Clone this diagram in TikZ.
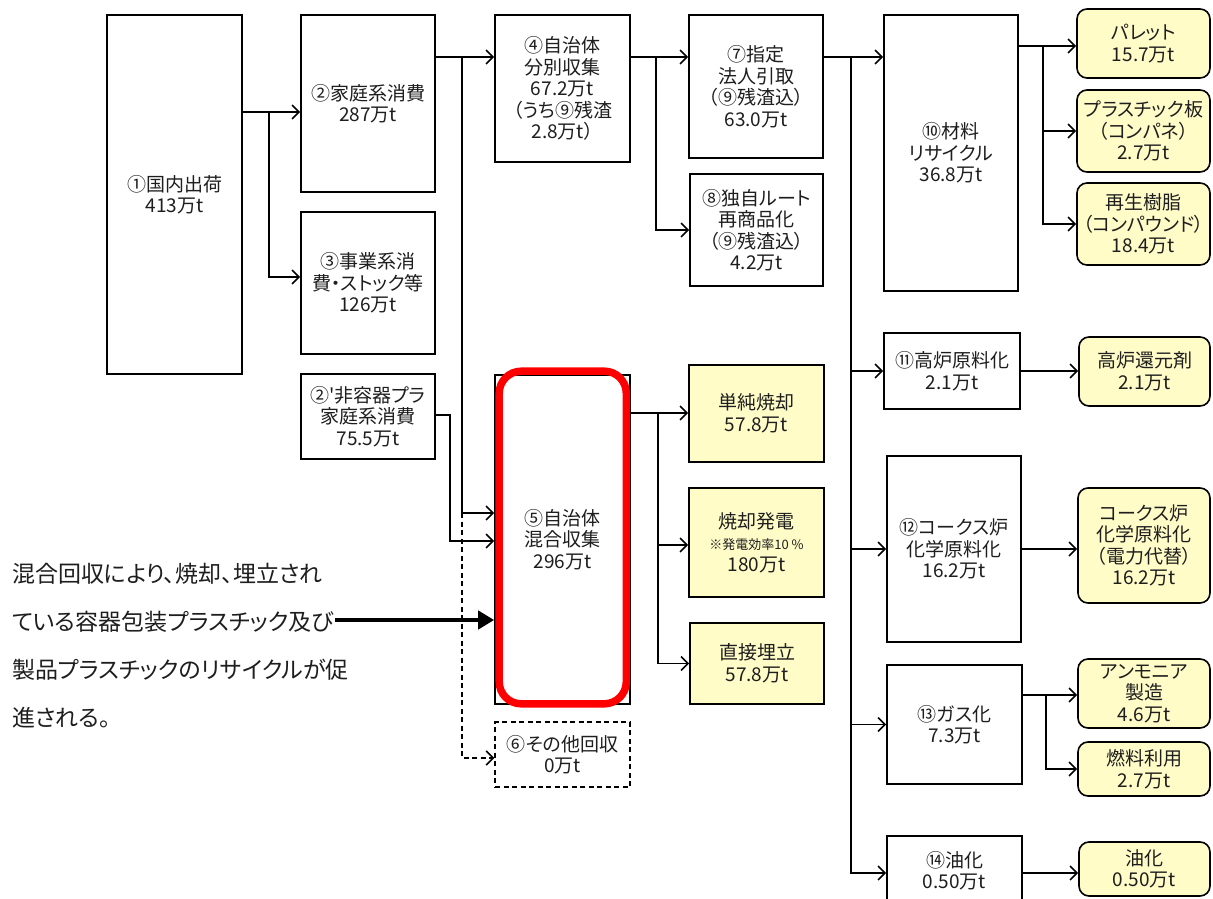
\documentclass[tikz,border=0pt]{standalone}
\usepackage{fontspec}
\setmainfont{Noto Sans CJK JP}[RawFeature=+palt]
\usetikzlibrary{calc,arrows.meta,positioning}
\definecolor{paleyel}{RGB}{255,252,200}
\definecolor{txtgray}{RGB}{30,30,30}

\begin{document}
\begin{tikzpicture}[x=1pt,y=-1pt,
  box/.style={draw,line width=1.6pt,inner sep=0pt,align=center,text=txtgray,
    font=\fontsize{19}{21.5}\selectfont},
  ybox/.style={box,fill=paleyel},
  rbox/.style={box,fill=paleyel,rounded corners=10pt},
  dbox/.style={box,dash pattern=on 5pt off 3.5pt,line width=1.4pt},
  arr/.style={line width=1.6pt,-{Straight Barb[length=7pt,width=14pt,line width=1.6pt]}},
  bigarr/.style={line width=4.5pt,-{Triangle[length=16pt,width=18pt]}},
  hilite/.style={draw=red,line width=7.5pt,rounded corners=22pt}]

\useasboundingbox[fill=white] (0,0) rectangle (1213,899);

% column 1 and 2
\node[box,minimum width=135,minimum height=359] (n1) at (174.5,194.5) {①国内出荷\\413万t};
\node[box,minimum width=134,minimum height=177] (n2) at (368,103.5) {②家庭系消費\\287万t};
\node[box,minimum width=134,minimum height=142] (n3) at (368,283) {③事業系消\\費・ストック等\\126万t};
\node[box,minimum width=134,minimum height=85] (n2p) at (368,416.5) {②\textquotesingle 非容器プラ\\家庭系消費\\75.5万t};

% column 3
\node[box,minimum width=135,minimum height=147] (n4) at (562.5,88.5) {④自治体\\分別収集\\67.2万t\\（うち⑨残渣\\2.8万t）};
\node[box,minimum width=135,minimum height=329] (n5) at (562.5,539.5) {⑤自治体\\混合収集\\296万t};
\node[dbox,minimum width=135,minimum height=65] (n6) at (562.5,754.5) {⑥その他回収\\0万t};

% column 4
\node[box,minimum width=134,minimum height=143] (n7) at (756,86.5) {⑦指定\\法人引取\\（⑨残渣込）\\63.0万t};
\node[box,minimum width=133,minimum height=112] (n8) at (756.5,230) {⑧独自ルート\\再商品化\\（⑨残渣込）\\4.2万t};
\node[ybox,minimum width=135,minimum height=97] (y1) at (756.5,413.5) {単純焼却\\57.8万t};
\node[ybox,minimum width=135,minimum height=109] (y2) at (756.5,542.5) {焼却発電\\{\fontsize{13}{19}\selectfont ※発電効率10 \%}\\180万t};
\node[ybox,minimum width=134,minimum height=81] (y3) at (757,663.5) {直接埋立\\57.8万t};

% column 5
\node[box,minimum width=134,minimum height=276] (n10) at (951,153) {⑩材料\\リサイクル\\36.8万t};
\node[box,minimum width=136,minimum height=76] (n11) at (952,371) {⑪高炉原料化\\2.1万t};
\node[box,minimum width=134,minimum height=186] (n12) at (954,549) {⑫コークス炉\\化学原料化\\16.2万t};
\node[box,minimum width=135,minimum height=119] (n13) at (954.5,724.5) {⑬ガス化\\7.3万t};
\node[box,minimum width=135,minimum height=69] (n14) at (954.5,870.5) {⑭油化\\0.50万t};

% column 6
\node[rbox,minimum width=133,minimum height=69] (r1) at (1143.5,43.5) {パレット\\15.7万t};
\node[rbox,minimum width=133,minimum height=82] (r2) at (1143.5,131) {プラスチック板\\（コンパネ）\\2.7万t};
\node[rbox,minimum width=133,minimum height=82] (r3) at (1143.5,224) {再生樹脂\\（コンパウンド）\\18.4万t};
\node[rbox,minimum width=131,minimum height=69] (r4) at (1144.5,371.5) {高炉還元剤\\2.1万t};
\node[rbox,minimum width=132,minimum height=115] (r5) at (1144,545.5) {コークス炉\\化学原料化\\（電力代替）\\16.2万t};
\node[rbox,minimum width=132,minimum height=69] (r6) at (1144,693.5) {アンモニア\\製造\\4.6万t};
\node[rbox,minimum width=132,minimum height=54] (r7) at (1144,769) {燃料利用\\2.7万t};
\node[rbox,minimum width=131,minimum height=54] (r8) at (1144.5,869) {油化\\0.50万t};

% note on the left
\node[anchor=west,align=left,text=txtgray,inner sep=0pt,
  font=\fontsize{23}{48}\selectfont] (note) at (12,646)
  {混合回収により、焼却、埋立され\\ている容器包装プラスチック及び\\製品プラスチックのリサイクルが促\\進される。};

% highlight
\draw[hilite] ($(n5.north west)+(5,-3)$) rectangle ($(n5.south east)+(-4.5,-1)$);

% flows
\coordinate (a1) at (269,112);
\draw[arr] (a1 -| n1.east) -- (a1 -| n2.west);
\draw[arr] (a1) |- ($(n3.west)+(0,-6)$);

\coordinate (a2) at (462,57);
\coordinate (a3) at (462,513);
\draw[arr] (a2 -| n2.east) -- (a2 -| n4.west);
\draw[arr] (a2) -- (a3) -- (a3 -| n5.west);
\draw[arr,dash pattern=on 5pt off 3.5pt] (a3) |- ($(n6.west)+(0,3.5)$);

\coordinate (a4) at (450,541);
\draw[arr] ($(n2p.east)+(0,-1.5)$) -| (a4) -- (a4 -| n5.west);

\coordinate (a5) at (656,57);
\draw[arr] (a5 -| n4.east) -- (a5 -| n7.west);
\draw[arr] (a5) |- (n8.west);

\coordinate (a6) at (851,57);
\draw[arr] (a6 -| n7.east) -- (a6 -| n10.west);
\draw[arr] (a6) |- ($(n14.west)+(0,2.5)$);
\foreach \n in {n11,n12,n13}
  \draw[arr] (a6 |- \n.west) -- (\n.west);

\coordinate (a7) at (1043,46);
\draw[arr] (a7 -| n10.east) -- (a7 -| r1.west);
\draw[arr] (a7) |- (r2.west);
\draw[arr] (a7) |- (r3.west);

\draw[arr] (n11.east) -- (n11.east -| r4.west);
\draw[arr] (n12.east) -- (n12.east -| r5.west);
\coordinate (a8) at (1046,695);
\draw[arr] (a8 -| n13.east) -- (a8 -| r6.west);
\draw[arr] (a8) |- (r7.west);
\draw[arr] ($(n14.east)+(0,2.5)$) -- ($(n14.east -| r8.west)+(0,2.5)$);

\coordinate (a9) at (658,413);
\draw[arr] (a9 -| n5.east) -- (a9 -| y1.west);
\draw[arr] (a9) |- ($(y2.west)+(0,2.5)$);
\draw[arr] (a9) |- (y3.west);

\coordinate (c1) at (335,620);
\draw[bigarr] (c1) -- (c1 -| n5.west);
\end{tikzpicture}
\end{document}
